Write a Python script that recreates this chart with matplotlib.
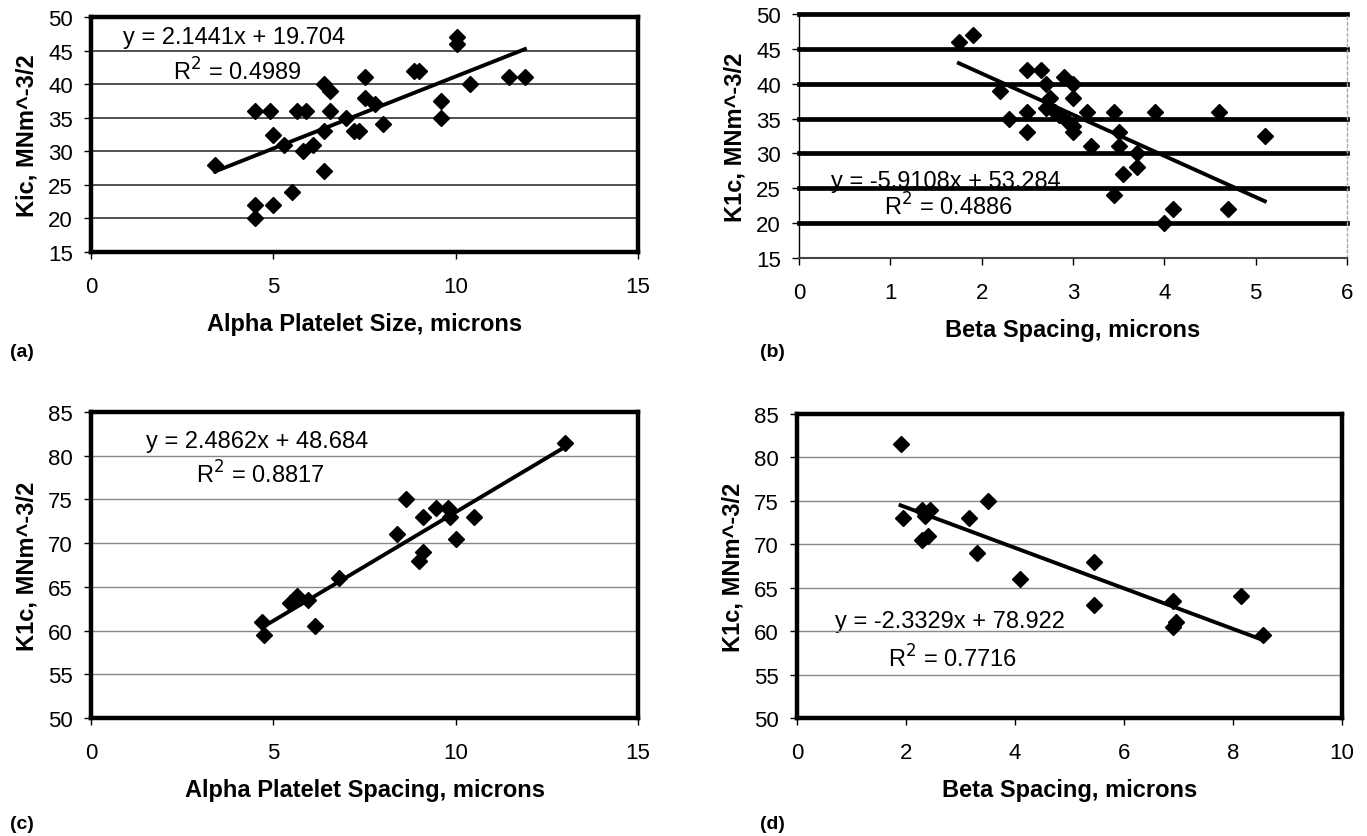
import numpy as np
import matplotlib
matplotlib.use("Agg")
import matplotlib.pyplot as plt

plt.rcParams["font.family"] = ["Liberation Sans", "DejaVu Sans"]

# ---- data ------------------------------------------------------------
# (a) Kic vs alpha platelet size
a_x = [3.4, 4.5, 4.9, 4.5, 4.5, 5.0, 5.0, 5.3, 5.5, 5.65, 5.9, 5.8, 6.1,
       6.4, 6.4, 6.4, 6.55, 6.55, 7.0, 7.2, 7.35, 7.5, 7.5, 7.8, 8.0,
       8.85, 9.0, 9.6, 9.6, 10.05, 10.05, 10.4, 11.45, 11.9]
a_y = [28, 36, 36, 22, 20, 22, 32.5, 31, 24, 36, 36, 30, 31,
       27, 33, 40, 39, 36, 35, 33, 33, 41, 38, 37, 34,
       42, 42, 37.5, 35, 47, 46, 40, 41, 41]
a_fit = (2.1441, 19.704)
a_eq = ["y = 2.1441x + 19.704", "R$^2$ = 0.4989"]

# (b) K1c vs beta spacing
b_x = [1.75, 1.9, 2.2, 2.3, 2.5, 2.5, 2.5, 2.65, 2.7, 2.75, 2.7, 2.8,
       2.85, 2.9, 3.0, 3.0, 2.95, 3.0, 3.0, 3.15, 3.2, 3.45, 3.5, 3.5,
       3.45, 3.55, 3.7, 3.7, 3.9, 4.0, 4.1, 4.6, 4.7, 5.1]
b_y = [46, 47, 39, 35, 42, 36, 33, 42, 40, 38, 36.5, 36,
       35.5, 41, 40, 38, 34.5, 34, 33, 36, 31, 36, 33, 31,
       24, 27, 30, 28, 36, 20, 22, 36, 22, 32.5]
b_fit = (-5.9108, 53.284)
b_eq = ["y = -5.9108x + 53.284", "R$^2$ = 0.4886"]

# (c) K1c vs alpha platelet spacing
c_x = [4.7, 4.75, 5.45, 5.65, 5.95, 6.15, 6.8, 8.4, 8.65, 9.0, 9.1, 9.1,
       9.45, 9.8, 9.85, 10.0, 10.5, 13.0]
c_y = [61, 59.5, 63.2, 64, 63.5, 60.5, 66, 71, 75, 68, 69, 73,
       74, 74, 73, 70.5, 73, 81.5]
c_fit = (2.4862, 48.684)
c_eq = ["y = 2.4862x + 48.684", "R$^2$ = 0.8817"]

# (d) K1c vs beta spacing
d_x = [1.9, 1.95, 2.3, 2.35, 2.45, 2.3, 2.4, 3.15, 3.3, 3.5, 4.1, 5.45,
       5.45, 6.9, 6.9, 6.95, 8.15, 8.55]
d_y = [81.5, 73, 74, 73.2, 74, 70.5, 71, 73, 69, 75, 66, 68,
       63, 63.5, 60.5, 61, 64, 59.5]
d_fit = (-2.3329, 78.922)
d_eq = ["y = -2.3329x + 78.922", "R$^2$ = 0.7716"]

FS_TICK = 16
FS_LAB = 17
FS_EQ = 17

fig = plt.figure(figsize=(13.67, 8.37), dpi=100)
ax_a = fig.add_axes([0.0666, 0.6977, 0.4001, 0.2808])
ax_b = fig.add_axes([0.5845, 0.6906, 0.4009, 0.2915])
ax_c = fig.add_axes([0.0666, 0.1410, 0.4001, 0.3656])
ax_d = fig.add_axes([0.5830, 0.1410, 0.3987, 0.3632])


def scatter_fit(ax, x, y, fit):
    ax.plot(x, y, "D", color="black", ms=8, zorder=4)
    xs = np.array([min(x), max(x)])
    ax.plot(xs, fit[0] * xs + fit[1], color="black", lw=2.8, zorder=5)


def labels(ax, xlabel, ylabel):
    ax.tick_params(direction="out", length=5, width=1, labelsize=FS_TICK)
    ax.tick_params(axis="x", pad=12)
    ax.tick_params(axis="y", pad=8)
    ax.set_xlabel(xlabel, fontsize=FS_LAB, fontweight="bold", labelpad=11)
    ax.set_ylabel(ylabel, fontsize=FS_LAB, fontweight="bold", labelpad=7)


def style(ax, xlim, xstep, ylim, xlabel, ylabel,
          grid_color="black", grid_lw=1.0):
    ax.set_xlim(*xlim)
    ax.set_ylim(*ylim)
    ax.set_xticks(np.arange(xlim[0], xlim[1] + 0.01, xstep))
    ax.set_yticks(np.arange(ylim[0], ylim[1] + 0.01, 5))
    for g in np.arange(ylim[0] + 5, ylim[1] - 0.01, 5):
        ax.axhline(g, color=grid_color, lw=grid_lw, zorder=2)
    labels(ax, xlabel, ylabel)
    for s in ax.spines.values():
        s.set_linewidth(3.2)
        s.set_zorder(6)


# (a)
scatter_fit(ax_a, a_x, a_y, a_fit)
style(ax_a, (0, 15), 5, (15, 50), "Alpha Platelet Size, microns",
      "Kic, MNm^-3/2", grid_color="#222222", grid_lw=1.1)
ax_a.text(0.87, 47, a_eq[0], fontsize=FS_EQ, va="center", zorder=1)
ax_a.text(2.24, 41.9, a_eq[1], fontsize=FS_EQ, va="center", zorder=1)

# (b) -- heavy grid lines, open frame
scatter_fit(ax_b, b_x, b_y, b_fit)
ax_b.set_xlim(0, 6)
ax_b.set_ylim(15, 50)
ax_b.set_xticks(range(0, 7))
ax_b.set_yticks(range(15, 51, 5))
for g in range(20, 51, 5):
    ax_b.axhline(g, color="black", lw=3.4, zorder=2, clip_on=False)
ax_b.spines["top"].set_visible(False)
ax_b.spines["left"].set_linewidth(1.0)
ax_b.spines["bottom"].set_linewidth(1.5)
ax_b.spines["bottom"].set_color("#444444")
ax_b.spines["right"].set_linewidth(1.0)
ax_b.spines["right"].set_color("#aaaaaa")
ax_b.spines["right"].set_linestyle((0, (2, 2)))
labels(ax_b, "Beta Spacing, microns", "K1c, MNm^-3/2")
ax_b.text(0.35, 26.1, b_eq[0], fontsize=FS_EQ, va="center", zorder=1)
ax_b.text(0.93, 22.4, b_eq[1], fontsize=FS_EQ, va="center", zorder=1)

# (c)
scatter_fit(ax_c, c_x, c_y, c_fit)
style(ax_c, (0, 15), 5, (50, 85), "Alpha Platelet Spacing, microns",
      "K1c, MNm^-3/2", grid_color="#888888", grid_lw=1.0)
ax_c.text(1.51, 81.7, c_eq[0], fontsize=FS_EQ, va="center", zorder=1)
ax_c.text(2.87, 77.9, c_eq[1], fontsize=FS_EQ, va="center", zorder=1)

# (d)
scatter_fit(ax_d, d_x, d_y, d_fit)
style(ax_d, (0, 10), 2, (50, 85), "Beta Spacing, microns",
      "K1c, MNm^-3/2", grid_color="#888888", grid_lw=1.0)
ax_d.text(0.69, 61.2, d_eq[0], fontsize=FS_EQ, va="center", zorder=1)
ax_d.text(1.67, 56.9, d_eq[1], fontsize=FS_EQ, va="center", zorder=1)

# panel letters
for lbl, px, py in [("(a)", 10, 353), ("(b)", 760, 353),
                    ("(c)", 10, 825), ("(d)", 760, 825)]:
    fig.text(px / 1367, 1 - py / 837, lbl, fontsize=14, fontweight="bold",
             ha="left", va="center")

fig.savefig("out.png", dpi=100)
